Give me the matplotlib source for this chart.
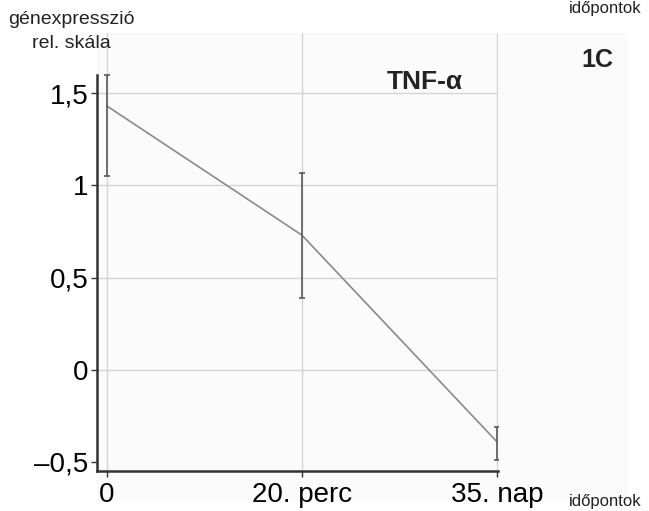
import matplotlib
matplotlib.use("Agg")
import matplotlib.pyplot as plt
from matplotlib.patches import Rectangle

plt.rcParams['font.family'] = ['Liberation Sans', 'DejaVu Sans']

timepoints = [0, 1, 2]
tick_labels = ['0', '20. perc', '35. nap']
expression = [1.43, 0.73, -0.39]
err_low = [1.05, 0.39, -0.49]
err_high = [1.60, 1.065, -0.31]
y_ticks = [-0.5, 0, 0.5, 1, 1.5]
y_labels = ['\u20130,5', '0', '0,5', '1', '1,5']

fig = plt.figure(figsize=(6.49, 5.11), dpi=100)
# faint grey panel behind the chart
fig.patches.append(Rectangle((0.1495, 0.02), 0.82, 0.915, transform=fig.transFigure,
                             facecolor='#fbfbfb', edgecolor='none', zorder=-5))
ax = fig.add_axes([0.1495, 0.0783, 0.6175, 0.8571])
ax.set_zorder(1)

lower = [e - l for e, l in zip(expression, err_low)]
upper = [h - e for e, h in zip(expression, err_high)]

# grid
for yv in y_ticks[1:]:
    ax.axhline(yv, color='#d4d4d4', lw=1, zorder=0)
for xv in timepoints:
    ax.axvline(xv, color='#d4d4d4', lw=1, zorder=0)

ax.plot(timepoints, expression, color='#8a8a8a', lw=1.2, zorder=2)
ax.errorbar(timepoints, expression, yerr=[lower, upper], fmt='none',
            ecolor='#5a5a5a', elinewidth=1.2, capsize=2, capthick=1.2, zorder=3)

ax.set_xlim(-0.051, 2.005)
ax.set_ylim(-0.549, 1.826)
ax.set_xticks(timepoints)
ax.set_xticklabels(tick_labels, fontsize=20)
ax.set_yticks(y_ticks)
ax.set_yticklabels(y_labels, fontsize=20)
ax.tick_params(axis='both', length=4, width=1, color='#333333', pad=2)
ax.tick_params(axis='x', pad=4)

for s in ['top', 'right']:
    ax.spines[s].set_visible(False)
ax.spines['left'].set_bounds(-0.549, 1.6)
ax.spines['left'].set_linewidth(1.8)
ax.spines['bottom'].set_linewidth(1.8)
ax.spines['left'].set_color('#333333')
ax.spines['bottom'].set_color('#333333')
ax.patch.set_alpha(0)

ax.text(1.63, 1.56, 'TNF-\u03b1', fontsize=19, fontweight='bold', ha='center', va='center',
        color='#222222')
fig.text(0.92, 0.883, '1C', fontsize=18, fontweight='bold', ha='center', va='center',
         color='#222222')
fig.text(0.012, 0.962, 'génexpresszió', fontsize=14, ha='left', va='center', color='#222222')
fig.text(0.11, 0.915, 'rel. skála', fontsize=14, ha='center', va='center', color='#222222')
fig.text(0.988, 0.998, 'időpontok', fontsize=12, ha='right', va='top', color='#222222')
fig.text(0.988, 0.004, 'időpontok', fontsize=12, ha='right', va='bottom', color='#222222')

fig.savefig('out.png', dpi=100, facecolor='white')
